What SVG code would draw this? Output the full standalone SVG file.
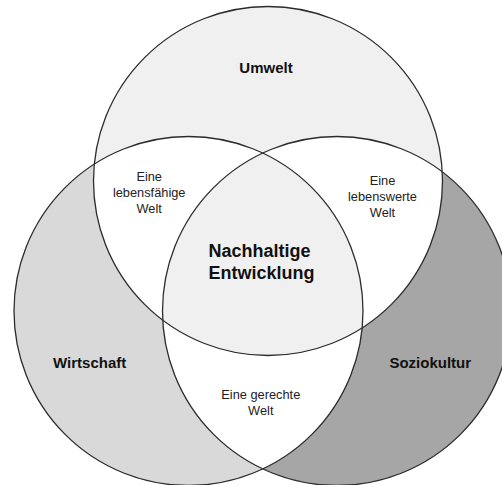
<svg xmlns="http://www.w3.org/2000/svg" width="502" height="485" viewBox="0 0 502 485">
  <style>
    .ring { fill: none; stroke: #2b2b2b; stroke-width: 1.3; }
    .label { font-family: "Liberation Sans", Arial, sans-serif; font-weight: bold; font-size: 15px; fill: #111; text-anchor: middle; }
    .core { font-family: "Liberation Sans", Arial, sans-serif; font-weight: bold; font-size: 18px; fill: #111; }
    .small { font-family: "Liberation Sans", Arial, sans-serif; font-size: 12.8px; fill: #222; text-anchor: middle; }
  </style>
  <defs>
    <circle id="cTop" cx="268" cy="181" r="174.5"/>
    <circle id="cLeft" cx="188.5" cy="311" r="174.5"/>
    <circle id="cRight" cx="337" cy="311" r="174.5"/>
    <clipPath id="inTop"><use href="#cTop"/></clipPath>
    <clipPath id="inLeft"><use href="#cLeft"/></clipPath>
    <clipPath id="inRight"><use href="#cRight"/></clipPath>
  </defs>

  <rect width="502" height="485" fill="#ffffff"/>

  <!-- base fills of the three spheres -->
  <g id="wirtschaft-fill"><use href="#cLeft" fill="#d9d9d9"/></g>
  <g id="soziokultur-fill"><use href="#cRight" fill="#a6a6a6"/></g>
  <g id="umwelt-fill"><use href="#cTop" fill="#f0f0f0"/></g>

  <!-- pairwise overlaps are white -->
  <g id="overlaps">
    <use href="#cTop" fill="#ffffff" clip-path="url(#inLeft)"/>
    <use href="#cTop" fill="#ffffff" clip-path="url(#inRight)"/>
    <use href="#cLeft" fill="#ffffff" clip-path="url(#inRight)"/>
  </g>

  <!-- triple overlap -->
  <g id="nachhaltige-entwicklung-fill" clip-path="url(#inRight)">
    <use href="#cTop" fill="#f0f0f0" clip-path="url(#inLeft)"/>
  </g>

  <!-- outlines -->
  <g id="outlines">
    <use href="#cTop" class="ring"/>
    <use href="#cLeft" class="ring"/>
    <use href="#cRight" class="ring"/>
  </g>

  <g id="umwelt">
    <text class="label" x="266" y="72.5">Umwelt</text>
  </g>
  <g id="wirtschaft">
    <text class="label" x="89.7" y="368">Wirtschaft</text>
  </g>
  <g id="soziokultur">
    <text class="label" x="430.3" y="368">Soziokultur</text>
  </g>
  <g id="nachhaltige-entwicklung">
    <text class="core" x="208.5" y="257">Nachhaltige</text>
    <text class="core" x="208.5" y="279">Entwicklung</text>
  </g>
  <g id="lebensfaehige-welt">
    <text class="small" x="149.2" y="180.5">Eine</text>
    <text class="small" x="149.2" y="196.5">lebensfähige</text>
    <text class="small" x="149.2" y="212.5">Welt</text>
  </g>
  <g id="lebenswerte-welt">
    <text class="small" x="382.5" y="185">Eine</text>
    <text class="small" x="382.5" y="201">lebenswerte</text>
    <text class="small" x="382.5" y="217">Welt</text>
  </g>
  <g id="gerechte-welt">
    <text class="small" x="260.8" y="398.5">Eine gerechte</text>
    <text class="small" x="260.8" y="415">Welt</text>
  </g>
</svg>
